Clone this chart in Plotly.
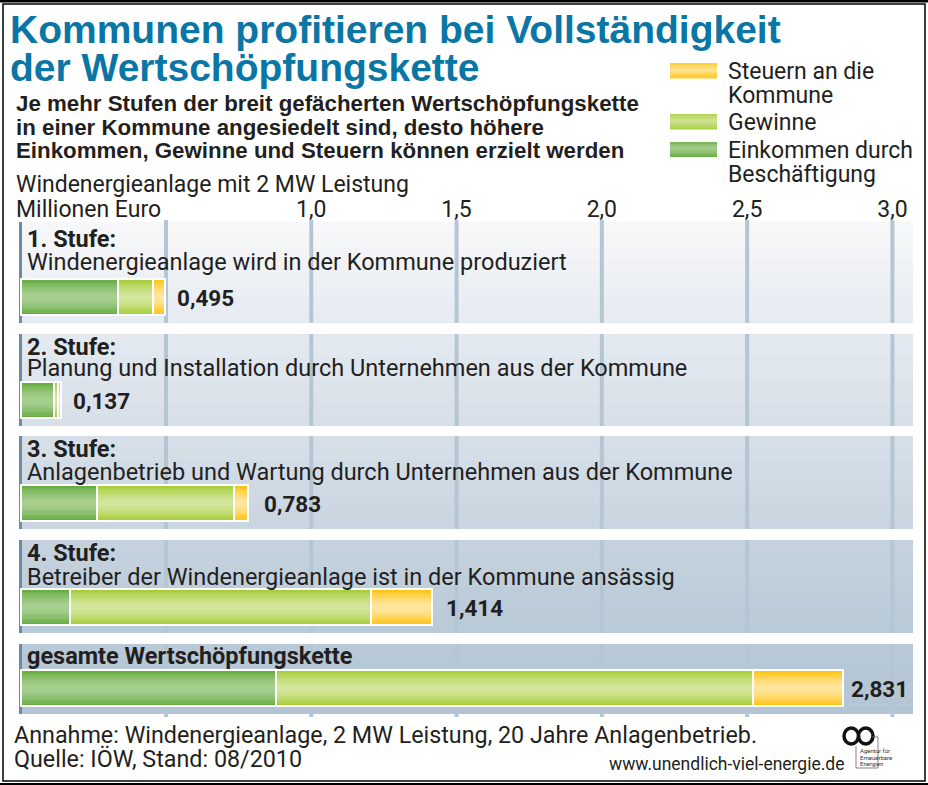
import plotly.graph_objects as go

# ---------------- data ----------------
stages = ["1. Stufe:", "2. Stufe:", "3. Stufe:", "4. Stufe:", "gesamte Wertschöpfungskette"]
descriptions = [
    "Windenergieanlage wird in der Kommune produziert",
    "Planung und Installation durch Unternehmen aus der Kommune",
    "Anlagenbetrieb und Wartung durch Unternehmen aus der Kommune",
    "Betreiber der Windenergieanlage ist in der Kommune ansässig",
    "",
]
einkommen = [0.335, 0.115, 0.262, 0.168, 0.880]
gewinne = [0.122, 0.012, 0.471, 1.036, 1.641]
steuern = [0.038, 0.010, 0.050, 0.210, 0.310]
totals = [0.495, 0.137, 0.783, 1.414, 2.831]
tick_values = [1.0, 1.5, 2.0, 2.5, 3.0]

series_names = ["Einkommen durch Beschäftigung", "Gewinne", "Steuern an die Kommune"]

# ---------------- layout constants (pixels) ----------------
W, H = 928, 785
X0_PX, UNIT_PX = 20.7, 290.57          # x=0 position and pixels per million
band_tops = [222, 334, 436, 540, 644]
band_bottoms = [323, 426, 529, 633, 714]
bar_centers = [297, 400, 503, 607, 688]
head_y = [239, 347, 449, 553, 656]
desc_y = [262.5, 368, 472.5, 576.5, None]
value_shift = [10, 10, 14, 12, 6]
band_colors = [("#f7f8fa", "#e6ebf1"), ("#e5eaf1", "#d6dee7"), ("#d7e0e9", "#c8d4df"),
               ("#c6d3df", "#b8c9d7"), ("#b8c9d7", "#b3c5d4")]

seg_edge = ["#69ad44", "#a8cf3b", "#ffc516"]
seg_center = ["#a6cf8f", "#d2e59a", "#ffe59c"]
layer_widths = [36, 31, 26, 21, 16, 11, 6]
layer_t = [0.0, 0.2, 0.4, 0.6, 0.75, 0.9, 1.0]

TEXT = "#231f20"
TITLE = "#0a76a5"
BODY_FONT = "Roboto, DejaVu Sans, sans-serif"
HEAD_FONT = "Liberation Sans, Arial, sans-serif"


def xp(px):
    return px / W


def yp(py):
    return 1 - py / H


def mix(c1, c2, t):
    a = [int(c1[i:i + 2], 16) for i in (1, 3, 5)]
    b = [int(c2[i:i + 2], 16) for i in (1, 3, 5)]
    return "#" + "".join(f"{round(a[k] + (b[k] - a[k]) * t):02x}" for k in range(3))


x_range = [-X0_PX / UNIT_PX, (W - X0_PX) / UNIT_PX]
Y_TOP, Y_BOT = 223, 720

fig = go.Figure()

# bars (stacked by explicit bases computed from the data)
series = [einkommen, gewinne, steuern]
bases = []
run = [0.0] * len(totals)
for s in series:
    bases.append(list(run))
    run = [r + v for r, v in zip(run, s)]

for si, s in enumerate(series):
    for wdt, t in zip(layer_widths, layer_t):
        fig.add_trace(go.Bar(
            orientation="h", x=s, base=bases[si], y=bar_centers,
            width=wdt, marker=dict(color=mix(seg_edge[si], seg_center[si], t), line=dict(width=0)),
            name=series_names[si], showlegend=False, hoverinfo="skip",
        ))
for si, s in enumerate(series):
    fig.add_trace(go.Bar(
        orientation="h", x=s, base=bases[si], y=bar_centers,
        width=layer_widths[0],
        marker=dict(color="rgba(0,0,0,0)", line=dict(width=2, color="white")),
        name=series_names[si], showlegend=False, hoverinfo="skip",
    ))

shapes = []

# band backgrounds with soft vertical gradient
N = 8
for top, bot, (c1, c2) in zip(band_tops, band_bottoms, band_colors):
    h = (bot - top) / N
    for k in range(N):
        shapes.append(dict(type="rect", xref="paper", yref="paper",
                           x0=xp(19), x1=xp(913), y0=yp(top + k * h), y1=yp(min(bot, top + (k + 1) * h + 0.6)),
                           fillcolor=mix(c1, c2, (k + 0.5) / N), line=dict(width=0), layer="below"))
    shapes.append(dict(type="rect", xref="paper", yref="paper", x0=xp(19), x1=xp(22),
                       y0=yp(top), y1=yp(bot), fillcolor="#6c8ba4", line=dict(width=0), layer="below"))

# gridlines inside bands
grid_x = [0.5, 1.0, 1.5, 2.0, 2.5, 3.0]
for i, (top, bot) in enumerate(zip(band_tops, band_bottoms)):
    b = bot + (3 if i == len(band_tops) - 1 else 0)
    t0 = top - (2 if i == 0 else 0)
    for gx in grid_x:
        shapes.append(dict(type="line", xref="x", yref="paper", x0=gx, x1=gx,
                           y0=yp(t0), y1=yp(b), line=dict(color="#b4c6d4", width=4), layer="below"))

# frame
shapes.append(dict(type="rect", xref="paper", yref="paper", x0=xp(3), x1=xp(925), y0=yp(4), y1=yp(781),
                   line=dict(color="black", width=1.5), fillcolor="rgba(0,0,0,0)"))
shapes.append(dict(type="rect", xref="paper", yref="paper", x0=0, x1=1, y0=yp(0), y1=yp(2.5),
                   line=dict(width=0), fillcolor="black"))
shapes.append(dict(type="rect", xref="paper", yref="paper", x0=0, x1=1, y0=yp(783), y1=yp(785),
                   line=dict(width=0), fillcolor="black"))

# legend swatches (gradient)
legend_rows = [(63, 78.5, 2), (114, 129.5, 1), (142, 157, 0)]
for y0, y1, si in legend_rows:
    n = 7
    h = (y1 - y0) / n
    for k in range(n):
        t = 1 - abs((k + 0.5) / n - 0.45) / 0.55
        shapes.append(dict(type="rect", xref="paper", yref="paper", x0=xp(670), x1=xp(717),
                           y0=yp(y0 + k * h), y1=yp(min(y1, y0 + (k + 1) * h + 0.5)),
                           fillcolor=mix(seg_edge[si], seg_center[si], max(0, t)), line=dict(width=0)))

# logo: infinity loops and box
shapes.append(dict(type="circle", xref="paper", yref="paper", x0=xp(844), x1=xp(858.5), y0=yp(728), y1=yp(744),
                   line=dict(color="#111", width=3.5)))
shapes.append(dict(type="circle", xref="paper", yref="paper", x0=xp(858.5), x1=xp(873), y0=yp(728), y1=yp(744),
                   line=dict(color="#111", width=3.5)))
shapes.append(dict(type="path", xref="paper", yref="paper",
                   path=f"M {xp(872)},{yp(737)} L {xp(878)},{yp(737)} L {xp(878)},{yp(768)} L {xp(856)},{yp(768)} L {xp(856)},{yp(746)}",
                   line=dict(color="#666", width=0.8)))

ann = []


def text(x, y, s, size, color=TEXT, family=BODY_FONT, bold=False, anchor="left"):
    ann.append(dict(x=x, y=y, xref="paper", yref="paper", text=f"<b>{s}</b>" if bold else s, showarrow=False,
                    xanchor=anchor, yanchor="middle",
                    font=dict(size=size, color=color, family=family)))


# title & subtitle
text(xp(8), yp(30), "Kommunen profitieren bei Vollständigkeit", 39, TITLE, HEAD_FONT, bold=True)
text(xp(8), yp(68), "der Wertschöpfungskette", 39, TITLE, HEAD_FONT, bold=True)
for y, s in zip([104, 128, 151], ["Je mehr Stufen der breit gefächerten Wertschöpfungskette",
                                   "in einer Kommune angesiedelt sind, desto höhere",
                                   "Einkommen, Gewinne und Steuern können erzielt werden"]):
    text(xp(14), yp(y), s, 22.3, TEXT, HEAD_FONT, bold=True)

# legend text
for y, s in zip([72, 96, 123, 151, 175], ["Steuern an die", "Kommune", "Gewinne", "Einkommen durch", "Beschäftigung"]):
    text(xp(726), yp(y), s, 23)

# axis caption
text(xp(14), yp(185), "Windenergieanlage mit 2 MW Leistung", 23)
text(xp(14), yp(210), "Millionen Euro", 23)

# stage labels and values
for i in range(len(stages)):
    ann.append(dict(x=0, y=head_y[i], xref="x", yref="y", text=f"<b>{stages[i]}</b>", showarrow=False,
                    xanchor="left", yanchor="middle", xshift=4,
                    font=dict(size=23.5, color=TEXT, family=BODY_FONT)))
    if descriptions[i]:
        ann.append(dict(x=0, y=desc_y[i], xref="x", yref="y", text=descriptions[i], showarrow=False,
                        xanchor="left", yanchor="middle", xshift=4,
                        font=dict(size=23.5, color=TEXT, family=BODY_FONT)))
    ann.append(dict(x=totals[i], y=bar_centers[i] + 1, xref="x", yref="y",
                    text="<b>" + f"{totals[i]:.3f}".replace(".", ",") + "</b>", showarrow=False,
                    xanchor="left", yanchor="middle", xshift=value_shift[i],
                    font=dict(size=22.5, color=TEXT, family=BODY_FONT)))

# footer
text(xp(12), yp(735), "Annahme: Windenergieanlage, 2 MW Leistung, 20 Jahre Anlagenbetrieb.", 23.3)
text(xp(12), yp(759), "Quelle: IÖW, Stand: 08/2010", 23.3)
text(xp(847), yp(764), "www.unendlich-viel-energie.de", 17.5, anchor="right")
for y, s in zip([750, 757, 763.5], ["Agentur für", "Erneuerbare", "Energien"]):
    text(xp(858), yp(y), s, 6, "#333")

fig.update_layout(
    width=W, height=H, margin=dict(l=0, r=0, t=0, b=0),
    paper_bgcolor="white", plot_bgcolor="rgba(0,0,0,0)",
    barmode="overlay", bargap=0, showlegend=False, separators=",.",
    shapes=shapes, annotations=ann,
    xaxis=dict(range=x_range, domain=[0, 1], side="top", tickvals=tick_values, tickformat=".1f",
               showgrid=False, zeroline=False, showline=False, ticks="", ticklabelstandoff=0,
               tickfont=dict(size=23, color=TEXT, family=BODY_FONT), fixedrange=True),
    yaxis=dict(range=[Y_BOT, Y_TOP], domain=[yp(Y_BOT), yp(Y_TOP)], visible=False, fixedrange=True),
)

fig.write_html("out.html", config={"displayModeBar": False},
               post_script="document.body.style.margin='0px';")
